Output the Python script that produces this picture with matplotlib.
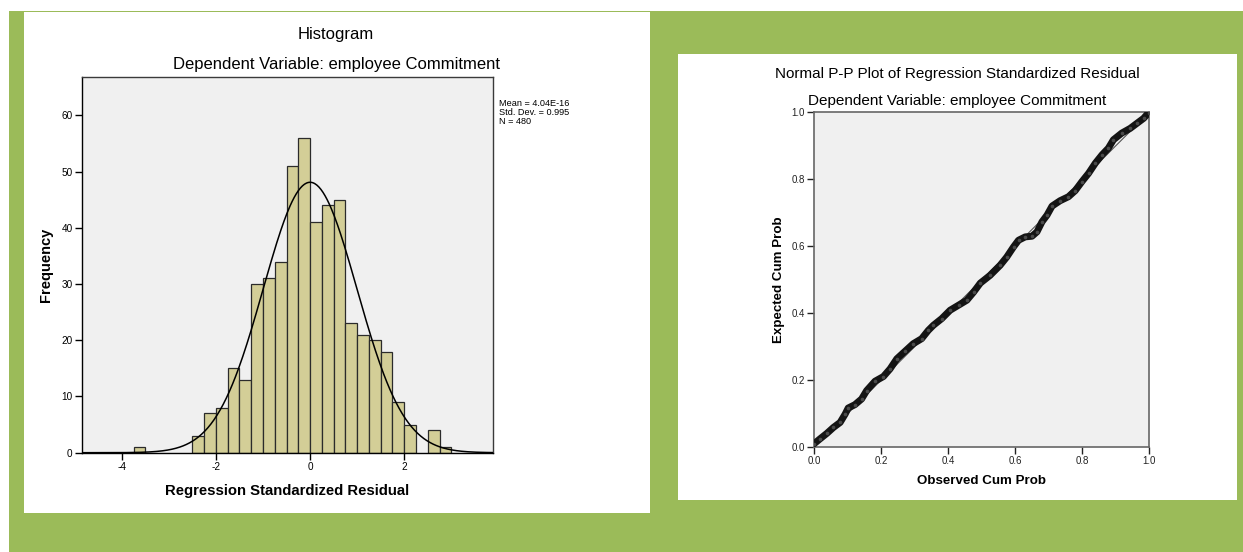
import numpy as np
import matplotlib
matplotlib.use("Agg")
import matplotlib.pyplot as plt
from matplotlib.patches import Rectangle

plt.rcParams["font.family"] = ["Liberation Sans", "DejaVu Sans"]
plt.rcParams["axes.unicode_minus"] = False

# ---------- data ----------
# histogram: left edges of the 0.25-wide bins and their counts
bin_left = [-3.75, -2.5, -2.25, -2.0, -1.75, -1.5, -1.25, -1.0, -0.75, -0.5, -0.25,
            0.0, 0.25, 0.5, 0.75, 1.0, 1.25, 1.5, 1.75, 2.0, 2.5, 2.75]
counts = [1, 3, 7, 8, 15, 13, 30, 31, 34, 51, 56,
          41, 44, 45, 23, 21, 20, 18, 9, 5, 4, 1]
bin_width = 0.25
res_mean = 4.04e-16
res_sd = 0.995
n_obs = 480

# P-P plot: observed vs expected cumulative probability
pp_obs = [0.0, 0.018, 0.038, 0.058, 0.078, 0.093, 0.102, 0.122, 0.142, 0.157,
          0.182, 0.207, 0.227, 0.247, 0.272, 0.296, 0.321, 0.341, 0.356, 0.381,
          0.406, 0.431, 0.456, 0.476, 0.496, 0.525, 0.555, 0.575, 0.595, 0.610,
          0.630, 0.650, 0.665, 0.680, 0.695, 0.710, 0.734, 0.759, 0.779, 0.799,
          0.819, 0.839, 0.859, 0.878, 0.893, 0.918, 0.943, 0.963, 0.983, 0.998]
pp_exp = [0.010, 0.025, 0.041, 0.059, 0.074, 0.099, 0.117, 0.127, 0.144, 0.169,
          0.197, 0.211, 0.234, 0.264, 0.287, 0.309, 0.324, 0.349, 0.364, 0.384,
          0.409, 0.424, 0.439, 0.463, 0.490, 0.513, 0.543, 0.568, 0.598, 0.618,
          0.628, 0.630, 0.643, 0.673, 0.693, 0.720, 0.736, 0.748, 0.766, 0.793,
          0.818, 0.848, 0.873, 0.893, 0.918, 0.938, 0.952, 0.967, 0.982, 0.999]

hist_yticks = [0, 10, 20, 30, 40, 50, 60]
hist_xticks = [-4, -2, 0, 2]
pp_ticks = [0.0, 0.2, 0.4, 0.6, 0.8, 1.0]

W, H = 1243, 552
GREEN = "#9BBB59"
PLOT_BG = "#F0F0F0"
BAR = "#D3CE97"


def fx(x):
    return x / W


def fy(y):
    return 1 - y / H


def box(x0, y0, x1, y1):
    # pixel box (top-left origin) -> figure rect
    return [fx(x0), fy(y1), (x1 - x0) / W, (y1 - y0) / H]


fig = plt.figure(figsize=(W / 100, H / 100), dpi=100, facecolor="white")

# backgrounds
for rect, col in [(box(9, 11, W, H), GREEN), (box(24, 12, 650, 513), "white"),
                  (box(678, 54, 1237, 500), "white")]:
    fig.patches.append(Rectangle((rect[0], rect[1]), rect[2], rect[3],
                                 transform=fig.transFigure, facecolor=col,
                                 edgecolor="none", zorder=-5))

# ---------- histogram ----------
ax = fig.add_axes(box(82.3, 76.7, 492.7, 452.7))
ax.set_facecolor(PLOT_BG)
ax.bar(bin_left, counts, width=bin_width, align="edge", color=BAR,
       edgecolor="#2b2b2b", linewidth=0.9, zorder=2)
xs = np.linspace(-4.84, 3.88, 400)
curve = n_obs * bin_width * np.exp(-0.5 * ((xs - res_mean) / res_sd) ** 2) / (res_sd * np.sqrt(2 * np.pi))
ax.plot(xs, curve, color="black", linewidth=1.1, zorder=3)
ax.set_xlim(-4.84, 3.88)
ax.set_ylim(0, 66.9)
ax.set_xticks(hist_xticks)
ax.set_yticks(hist_yticks)
ax.tick_params(labelsize=7.2, length=5, width=1, colors="black", pad=2)
for s in ax.spines.values():
    s.set_color("#3a3a3a")
    s.set_linewidth(1)
ax.spines["left"].set_color("black")
ax.spines["bottom"].set_color("black")

fig.text(fx(336), fy(35), "Histogram", ha="center", va="center", fontsize=12)
fig.text(fx(336.5), fy(64), "Dependent Variable: employee Commitment",
         ha="center", va="center", fontsize=12)
fig.text(fx(287.5), fy(491), "Regression Standardized Residual", ha="center",
         va="center", fontsize=10.7, fontweight="bold")
fig.text(fx(46), fy(265), "Frequency", ha="center", va="center", rotation=90,
         fontsize=10.5, fontweight="bold")
fig.text(fx(499), fy(99), f"Mean = 4.04E-16\nStd. Dev. = {res_sd}\nN = {n_obs}",
         ha="left", va="top", fontsize=6.6, linespacing=1.0)

# ---------- P-P plot ----------
ax2 = fig.add_axes(box(814, 112.3, 1149.3, 447.2))
ax2.set_facecolor(PLOT_BG)
ax2.plot([0, 1], [0, 1], color="#555555", linewidth=0.8, zorder=2)
ax2.plot(pp_obs, pp_exp, color="#141414", linewidth=5, solid_capstyle="round",
         solid_joinstyle="round", zorder=3)
ax2.plot(pp_obs, pp_exp, linestyle="none", marker="o", markersize=1.6,
         color="#4a4a4a", zorder=4)
ax2.set_xlim(0, 1)
ax2.set_ylim(0, 1)
ax2.set_xticks(pp_ticks)
ax2.set_yticks(pp_ticks)
ax2.set_xticklabels([f"{t:.1f}" for t in pp_ticks])
ax2.set_yticklabels([f"{t:.1f}" for t in pp_ticks])
ax2.tick_params(labelsize=7, length=5, width=1, colors="#222222", pad=1.5)
for s in ax2.spines.values():
    s.set_color("#666666")
    s.set_linewidth(1.2)

fig.text(fx(957.5), fy(74), "Normal P-P Plot of Regression Standardized Residual",
         ha="center", va="center", fontsize=11)
fig.text(fx(957.5), fy(101), "Dependent Variable: employee Commitment",
         ha="center", va="center", fontsize=11)
fig.text(fx(981.5), fy(481), "Observed Cum Prob", ha="center", va="center",
         fontsize=9.6, fontweight="bold")
fig.text(fx(779), fy(280), "Expected Cum Prob", ha="center", va="center",
         rotation=90, fontsize=9.6, fontweight="bold")

fig.savefig("out.png", dpi=100, facecolor="white")
